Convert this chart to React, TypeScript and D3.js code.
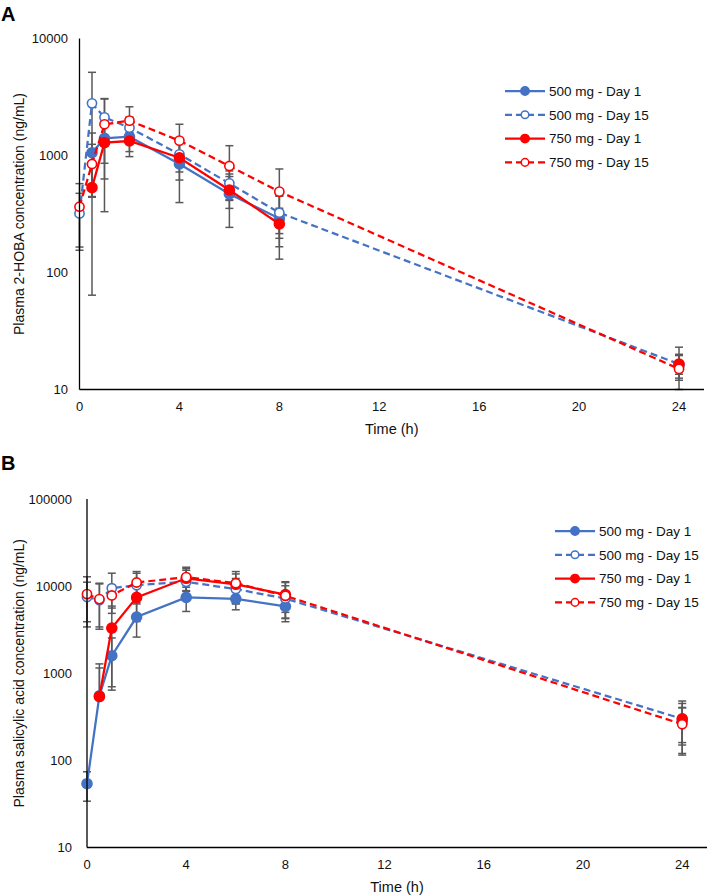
import React from 'react';
import * as d3 from 'd3';

// ---------- data ----------
const TIMES = [0, 0.5, 1, 2, 4, 6, 8, 24];
const SERIES_NAMES = ['500 mg - Day 1', '500 mg - Day 15', '750 mg - Day 1', '750 mg - Day 15'];
const X_TICKS = [0, 4, 8, 12, 16, 20, 24];
const A_Y_TICKS = [10, 100, 1000, 10000];
const B_Y_TICKS = [10, 100, 1000, 10000, 100000];

// Panel A: plasma 2-HOBA (ng/mL), mean
const A_500_D1 = [null, 1057, 1403, 1448, 846, 469, 290, 16];
const A_500_D15 = [320, 2790, 2120, 1729, 1023, 578, 324, 16.5];
const A_750_D1 = [null, 531, 1287, 1330, 957, 507, 260, 16.5];
const A_750_D15 = [365, 846, 1848, 1985, 1340, 813, 491, 15];
// Panel A: SD
const A_500_D1_SD = [null, 500, 545, 470, 450, 226, 160, 4];
const A_500_D15_SD = [155, 2350, 920, 400, 300, 160, 128, 3];
const A_750_D1_SD = [null, 467, 956, 250, 340, 154, 94, 6.5];
const A_750_D15_SD = [210, 400, 1218, 625, 510, 400, 276, 2.5];

// Panel B: plasma salicylic acid (ng/mL), mean
const B_500_D1 = [54, 550, 1590, 4420, 7420, 7150, 5840, 280];
const B_500_D15 = [7500, 6900, 9470, 10250, 11200, 9250, 7200, 300];
const B_750_D1 = [null, 540, 3300, 7420, 12300, 10500, 8000, 300];
const B_750_D15 = [8100, 7100, 7820, 11000, 12680, 10800, 7740, 260];
// Panel B: SD
const B_500_D1_SD = [20, 730, 950, 1820, 2300, 1800, 1940, 120];
const B_500_D15_SD = [3600, 3700, 4600, 3800, 4000, 3000, 2900, 150];
const B_750_D1_SD = [null, 610, 2600, 3500, 3600, 4200, 3000, 180];
const B_750_D15_SD = [4700, 3700, 2220, 3700, 3800, 3000, 3500, 145];

// Day 1 profiles are connected only up to 8 h
const DAY1_LINE_END = 8;

// ---------- styles ----------
const BLUE = '#4472C4';
const RED = '#FF0000';
const ERR = '#595959';
const FONT = 'Arial, "Liberation Sans", sans-serif';
const SERIES_STYLE = [
  { color: BLUE, dashed: false, filled: true },
  { color: BLUE, dashed: true, filled: false },
  { color: RED, dashed: false, filled: true },
  { color: RED, dashed: true, filled: false },
];

type Panel = {
  letter: string;
  letterY: number;
  yTitle: string;
  means: (number | null)[][];
  sds: (number | null)[][];
  yTicks: number[];
  yDomain: [number, number];
  xRange: [number, number];
  yRange: [number, number];
  tickLabelRight: number;
  legendX: number;
  legendY: number;
};

const PANELS: Panel[] = [
  {
    letter: 'A',
    letterY: 21,
    yTitle: 'Plasma 2-HOBA concentration (ng/mL)',
    means: [A_500_D1, A_500_D15, A_750_D1, A_750_D15],
    sds: [A_500_D1_SD, A_500_D15_SD, A_750_D1_SD, A_750_D15_SD],
    yTicks: A_Y_TICKS,
    yDomain: [10, 10000],
    xRange: [79.5, 704],
    yRange: [389.5, 38.5],
    tickLabelRight: 68,
    legendX: 505,
    legendY: 91,
  },
  {
    letter: 'B',
    letterY: 470,
    yTitle: 'Plasma salicylic acid  concentration (ng/mL)',
    means: [B_500_D1, B_500_D15, B_750_D1, B_750_D15],
    sds: [B_500_D1_SD, B_500_D15_SD, B_750_D1_SD, B_750_D15_SD],
    yTicks: B_Y_TICKS,
    yDomain: [10, 100000],
    xRange: [87, 707],
    yRange: [847.5, 499],
    tickLabelRight: 72,
    legendX: 555,
    legendY: 531,
  },
];

function PanelChart({ p }: { p: Panel }) {
  const x = d3.scaleLinear().domain([0, 25]).range(p.xRange);
  const y = d3.scaleLog().domain(p.yDomain).range(p.yRange);
  const [x0, x1] = p.xRange;
  const [yb, yt] = p.yRange;
  const clampY = (v: number) => Math.max(p.yDomain[0], Math.min(p.yDomain[1], v));

  const errBars: JSX.Element[] = [];
  p.means.forEach((ser, si) => {
    ser.forEach((m, i) => {
      const sd = p.sds[si][i];
      if (m == null || sd == null) return;
      const cx = x(TIMES[i]);
      const cy = y(m);
      const hi = m + sd;
      const lo = m - sd;
      const hiY = y(clampY(hi));
      errBars.push(<line key={`eu${si}-${i}`} x1={cx} x2={cx} y1={cy} y2={hiY} stroke={ERR} strokeWidth={1.5} />);
      if (hi <= p.yDomain[1]) errBars.push(<line key={`cu${si}-${i}`} x1={cx - 4} x2={cx + 4} y1={hiY} y2={hiY} stroke={ERR} strokeWidth={1.5} />);
      if (lo > 0) {
        const loY = y(clampY(lo));
        errBars.push(<line key={`el${si}-${i}`} x1={cx} x2={cx} y1={cy} y2={loY} stroke={ERR} strokeWidth={1.5} />);
        if (lo >= p.yDomain[0]) errBars.push(<line key={`cl${si}-${i}`} x1={cx - 4} x2={cx + 4} y1={loY} y2={loY} stroke={ERR} strokeWidth={1.5} />);
      }
    });
  });

  const series = p.means.map((ser, si) => {
    const st = SERIES_STYLE[si];
    const pts = TIMES.map((t, i) => ({ t, v: ser[i] })).filter((d) => d.v != null) as { t: number; v: number }[];
    const linePts = st.dashed ? pts : pts.filter((d) => d.t <= DAY1_LINE_END);
    const line = d3.line<{ t: number; v: number }>().x((d) => x(d.t)).y((d) => y(d.v));
    return (
      <g key={si}>
        <path d={line(linePts) || ''} fill="none" stroke={st.color} strokeWidth={2.25} strokeDasharray={st.dashed ? '7,4' : undefined} />
        {pts.map((d, i) => (
          <circle key={i} cx={x(d.t)} cy={y(d.v)} r={st.filled ? 5 : 4.6} fill={st.filled ? st.color : '#fff'} stroke={st.color} strokeWidth={1.6} />
        ))}
      </g>
    );
  });

  const midX = (x0 + x1) / 2;
  const midY = (yb + yt) / 2;

  return (
    <g>
      <text x={1} y={p.letterY} fontFamily={FONT} fontWeight="bold" fontSize={20} fill="#000">{p.letter}</text>
      {errBars}
      {series}
      <line x1={x0} x2={x0} y1={yt} y2={yb} stroke="#000" strokeWidth={1.3} />
      <line x1={x0} x2={x1} y1={yb} y2={yb} stroke="#000" strokeWidth={1.3} />
      {p.yTicks.map((t) => (
        <text key={t} x={p.tickLabelRight} y={y(t)} dy="0.35em" textAnchor="end" fontFamily={FONT} fontSize={13} fill="#111">{t}</text>
      ))}
      {X_TICKS.map((t) => (
        <text key={t} x={x(t)} y={yb + 17} dy="0.35em" textAnchor="middle" fontFamily={FONT} fontSize={13} fill="#111">{t}</text>
      ))}
      <text x={midX} y={yb + 39} dy="0.35em" textAnchor="middle" fontFamily={FONT} fontSize={14.5} fill="#111">Time (h)</text>
      <text transform={`translate(19,${midY}) rotate(-90)`} dy="0.35em" textAnchor="middle" fontFamily={FONT} fontSize={14} fill="#111">{p.yTitle}</text>
      {SERIES_NAMES.map((name, i) => {
        const st = SERIES_STYLE[i];
        const ly = p.legendY + i * 23.8;
        return (
          <g key={name}>
            <line x1={p.legendX} x2={p.legendX + 40} y1={ly} y2={ly} stroke={st.color} strokeWidth={2.25} strokeDasharray={st.dashed ? '7,4' : undefined} />
            <circle cx={p.legendX + 20} cy={ly} r={st.filled ? 4.2 : 3.8} fill={st.filled ? st.color : '#fff'} stroke={st.color} strokeWidth={1.5} />
            <text x={p.legendX + 44} y={ly} dy="0.35em" fontFamily={FONT} fontSize={13.5} fill="#111">{name}</text>
          </g>
        );
      })}
    </g>
  );
}

export default function App() {
  return (
    <svg width={709} height={895} style={{ position: 'absolute', left: 0, top: 0, background: '#fff' }}>
      <rect width={709} height={895} fill="#fff" />
      {PANELS.map((p) => (
        <PanelChart key={p.letter} p={p} />
      ))}
    </svg>
  );
}
